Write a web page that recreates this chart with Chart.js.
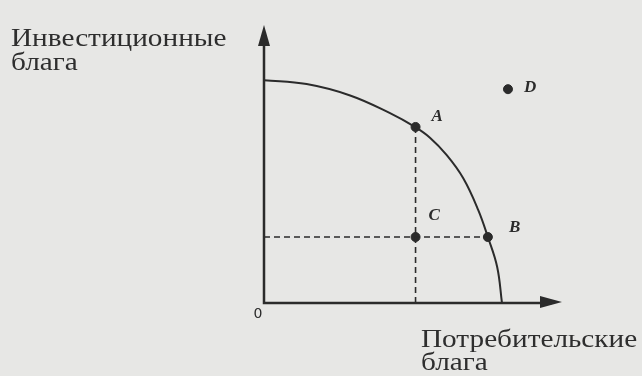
<!DOCTYPE html>
<html>
<head>
<meta charset="utf-8">
<script src="https://cdn.jsdelivr.net/npm/chart.js@4"></script>
<style>
  html, body { margin: 0; padding: 0; background: #e7e7e5; }
  #wrap { width: 642px; height: 376px; }
</style>
</head>
<body>
<div id="wrap"><canvas id="ppf" width="642" height="376"></canvas></div>
<script>
// production possibilities frontier
const curveX = [0, 14.2, 28.7, 42, 50.3, 55.3, 60.9, 66.4, 71.4, 74.6, 77.7, 79.3];
const curveY = [74.3, 73.0, 69.2, 63.3, 58.7, 55.1, 49.3, 41.6, 31, 22, 12, 0];

const pointNames = ["A", "B", "C", "D"];
const pointX = [50.5, 74.6, 50.5, 81.3];
const pointY = [58.7, 22, 22, 71.3];

const yTitle = ["Инвестиционные", "блага"];
const xTitle = ["Потребительские", "блага"];

const ink = "#2b2b2b";

let curve = curveX.map((x, i) => ({ x: x, y: curveY[i] }));
let pts = pointX.map((x, i) => ({ x: x, y: pointY[i] }));

// dashed guides: from A down to the x axis, from the y axis to B
let vGuide = [{ x: pointX[0], y: pointY[0] }, { x: pointX[0], y: 0 }];
let hGuide = [{ x: 0, y: pointY[1] }, { x: pointX[1], y: pointY[1] }];

function wideText(ctx, txt, x, y) {
    ctx.save();
    ctx.translate(x, y);
    ctx.scale(1.125, 1);
    ctx.fillText(txt, 0, 0);
    ctx.restore();
}

const drawAxes = {
    id: "drawAxes",
    afterDatasetsDraw(chart) {
        let ctx = chart.ctx;
        let xs = chart.scales.x, ys = chart.scales.y;
        let x0 = xs.getPixelForValue(0), y0 = ys.getPixelForValue(0);
        let xEnd = xs.getPixelForValue(xs.max), yEnd = ys.getPixelForValue(ys.max);

        ctx.save();
        ctx.strokeStyle = ink;
        ctx.fillStyle = ink;
        ctx.lineWidth = 2.5;
        ctx.beginPath();
        ctx.moveTo(x0, yEnd + 10);
        ctx.lineTo(x0, y0);
        ctx.lineTo(xEnd - 10, y0);
        ctx.stroke();

        // arrow heads
        ctx.beginPath();
        ctx.moveTo(x0, yEnd);
        ctx.lineTo(x0 - 6, yEnd + 21);
        ctx.lineTo(x0 + 6, yEnd + 21);
        ctx.closePath();
        ctx.fill();
        ctx.beginPath();
        ctx.moveTo(xEnd, y0 - 1);
        ctx.lineTo(xEnd - 22, y0 - 7);
        ctx.lineTo(xEnd - 22, y0 + 5);
        ctx.closePath();
        ctx.fill();

        // origin
        ctx.font = "14px 'DejaVu Sans'";
        ctx.textAlign = "center";
        ctx.textBaseline = "middle";
        ctx.fillText("0", x0 - 6, y0 + 11);

        // axis titles
        ctx.font = "26px 'Liberation Serif'";
        ctx.textAlign = "left";
        ctx.textBaseline = "alphabetic";
        ctx.fillStyle = "#2e2e2e";
        wideText(ctx, yTitle[0], 11, 46);
        wideText(ctx, yTitle[1], 11, 70);
        wideText(ctx, xTitle[0], 421, 347);
        wideText(ctx, xTitle[1], 421, 370);

        // point letters
        ctx.font = "italic bold 17px 'Liberation Serif'";
        ctx.fillStyle = ink;
        let offs = [[16, -10], [21, -9], [13, -21], [16, -2]];
        pointNames.forEach((n, i) => {
            let px = xs.getPixelForValue(pointX[i]), py = ys.getPixelForValue(pointY[i]);
            ctx.textAlign = "left";
            ctx.textBaseline = "middle";
            ctx.fillText(n, px + offs[i][0], py + offs[i][1]);
        });
        ctx.restore();
    }
};

const bg = {
    id: "bg",
    beforeDraw(chart) {
        let ctx = chart.ctx;
        ctx.save();
        ctx.fillStyle = "#e7e7e5";
        ctx.fillRect(0, 0, chart.width, chart.height);
        ctx.restore();
    }
};

new Chart(document.getElementById("ppf"), {
    type: "scatter",
    data: {
        datasets: [
            {
                data: curve,
                showLine: true,
                borderColor: ink,
                borderWidth: 2,
                pointRadius: 0,
                tension: 0.4
            },
            {
                data: vGuide,
                showLine: true,
                borderColor: ink,
                borderWidth: 1.6,
                borderDash: [6, 4],
                pointRadius: 0
            },
            {
                data: hGuide,
                showLine: true,
                borderColor: ink,
                borderWidth: 1.6,
                borderDash: [6, 4],
                pointRadius: 0
            },
            {
                data: pts,
                pointRadius: 4.5,
                pointBackgroundColor: ink,
                pointBorderColor: ink
            }
        ]
    },
    options: {
        responsive: false,
        animation: false,
        layout: { padding: { left: 264, right: 80, top: 25, bottom: 73 } },
        plugins: { legend: { display: false }, tooltip: { enabled: false } },
        scales: {
            x: { type: "linear", min: 0, max: 99.3, display: false },
            y: { type: "linear", min: 0, max: 92.7, display: false }
        }
    },
    plugins: [bg, drawAxes]
});
</script>
</body>
</html>
